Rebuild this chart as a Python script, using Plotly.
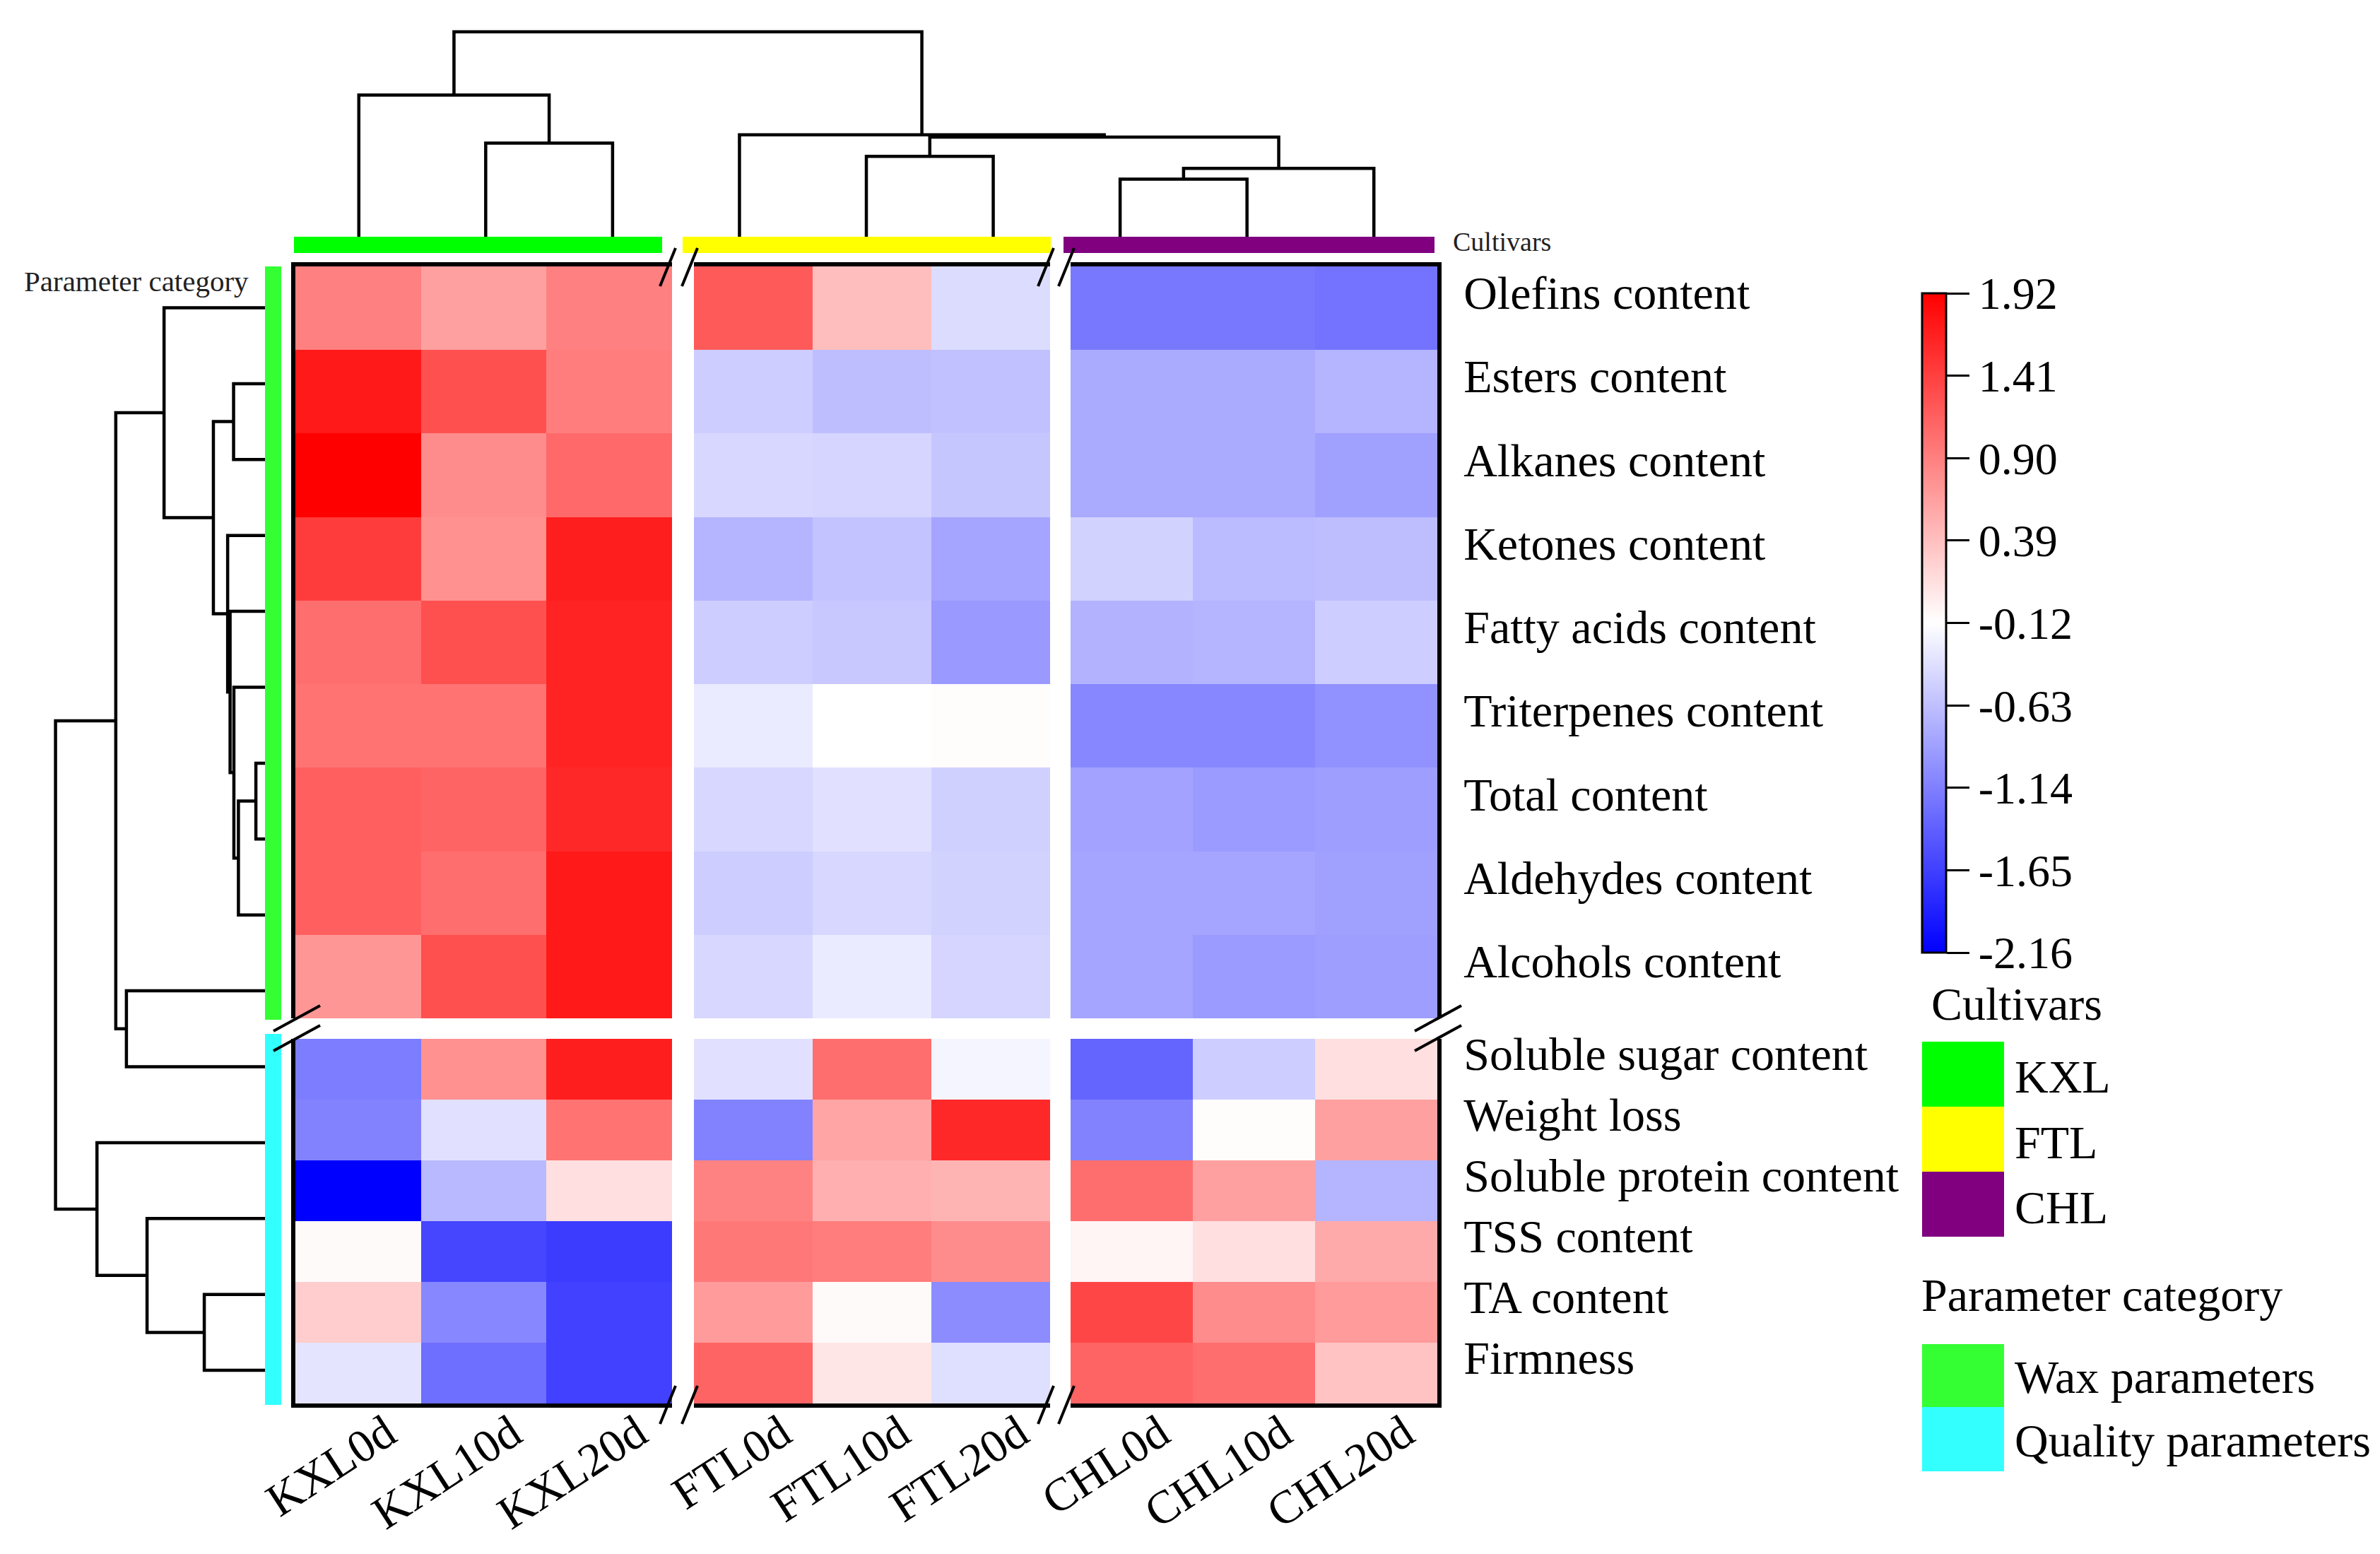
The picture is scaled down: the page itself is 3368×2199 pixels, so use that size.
import plotly.graph_objects as go

# ---------------- data ----------------
cultivar_cols = ["KXL0d", "KXL10d", "KXL20d", "FTL0d", "FTL10d", "FTL20d", "CHL0d", "CHL10d", "CHL20d"]
cultivar_groups = ["KXL", "FTL", "CHL"]
wax_params = ["Olefins content", "Esters content", "Alkanes content", "Ketones content",
              "Fatty acids content", "Triterpenes content", "Total content",
              "Aldehydes content", "Alcohols content"]
quality_params = ["Soluble sugar content", "Weight loss", "Soluble protein content",
                  "TSS content", "TA content", "Firmness"]

wax_values = [
    [0.90, 0.64, 0.90, 1.20, 0.40, -0.40, -1.20, -1.20, -1.24],
    [1.72, 1.28, 0.92, -0.52, -0.64, -0.62, -0.80, -0.80, -0.72],
    [1.92, 0.80, 1.08, -0.44, -0.46, -0.58, -0.80, -0.80, -0.88],
    [1.44, 0.76, 1.68, -0.72, -0.60, -0.84, -0.48, -0.66, -0.64],
    [1.04, 1.28, 1.64, -0.52, -0.56, -0.94, -0.74, -0.72, -0.52],
    [1.00, 1.00, 1.64, -0.28, -0.12, -0.10, -1.08, -1.08, -1.00],
    [1.16, 1.12, 1.60, -0.44, -0.36, -0.50, -0.86, -0.92, -0.90],
    [1.16, 1.04, 1.72, -0.52, -0.44, -0.48, -0.84, -0.84, -0.88],
    [0.72, 1.28, 1.72, -0.44, -0.28, -0.46, -0.84, -0.92, -0.90],
]
quality_values = [
    [-1.16, 0.76, 1.68, -0.36, 1.04, -0.20, -1.36, -0.52, 0.14],
    [-1.12, -0.36, 1.00, -1.12, 0.60, 1.60, -1.12, -0.10, 0.64],
    [-2.16, -0.68, 0.14, 0.88, 0.52, 0.48, 1.04, 0.64, -0.72],
    [-0.08, -1.60, -1.68, 0.96, 0.92, 0.80, -0.04, 0.14, 0.56],
    [0.28, -1.08, -1.64, 0.68, -0.08, -1.04, 1.36, 0.80, 0.68],
    [-0.34, -1.28, -1.64, 1.12, 0.08, -0.38, 1.12, 1.04, 0.36],
]

colorbar_ticks = [1.92, 1.41, 0.90, 0.39, -0.12, -0.63, -1.14, -1.65, -2.16]
category_names = ["Wax parameters", "Quality parameters"]

# dendrogram merges: (child a, child b, merge height); leaves 0..n-1, merge k -> node n+k
col_merges = [(1, 2, 6.17), (0, 9, 9.33), (4, 5, 5.3), (6, 7, 3.8), (12, 8, 4.5),
              (11, 13, 6.56), (3, 14, 6.71), (10, 15, 13.5)]
row_merges = [(1, 2, 2.07), (6, 7, 0.6), (16, 8, 1.75), (5, 17, 2.05), (4, 18, 2.3),
              (3, 19, 2.46), (15, 20, 3.4), (0, 21, 6.65), (9, 10, 9.13), (22, 23, 9.83),
              (13, 14, 4.0), (12, 25, 7.77), (11, 26, 11.07), (24, 27, 13.8)]

# ---------------- layout helpers ----------------
W, H = 3368, 2199
FONT = "Liberation Serif"


def fx(p):
    return p / W


def fy(p):
    return 1 - p / H


col_edges = [(410, 943), (974, 1478), (1507, 2026)]   # pixel x of the three column blocks
row_edges = [(369, 1433), (1462, 1978)]               # pixel y of the two row blocks

cultivar_colors = ["#00FF00", "#FFFF00", "#800080"]
category_colors = ["#33FF33", "#33FFFF"]


def dendro_segments(n, merges):
    pos = [float(i) for i in range(n)]
    hgt = [0.0] * n
    ps, hs = [], []
    for a, b, h in merges:
        ps += [pos[a], pos[a], pos[b], pos[b], None]
        hs += [hgt[a], h, h, hgt[b], None]
        pos.append((pos[a] + pos[b]) / 2)
        hgt.append(h)
    return ps, hs


fig = go.Figure()
layout = {}

row_blocks = [(wax_params, wax_values), (quality_params, quality_values)]
k = 0
for r, (params, vals) in enumerate(row_blocks):
    for c in range(3):
        k += 1
        xs = cultivar_cols[3 * c:3 * c + 3]
        z = [row[3 * c:3 * c + 3] for row in vals]
        fig.add_trace(go.Heatmap(z=z, x=xs, y=params, coloraxis="coloraxis",
                                 xaxis=f"x{k}", yaxis=f"y{k}", hoverinfo="skip"))
        xl, xr = col_edges[c]
        yt, yb = row_edges[r]
        layout[f"xaxis{k}"] = dict(
            domain=[fx(xl), fx(xr)], anchor=f"y{k}", type="category", automargin=False,
            range=[-0.5, 2.5], showgrid=False, zeroline=False, ticks="",
            side="top" if r == 0 else "bottom",
            showline=True, linecolor="black", linewidth=6,
            showticklabels=(r == 1), tickangle=-33,
            tickfont=dict(family=FONT, size=66, color="black"),
            ticklabelstandoff=-28, ticklabelshift=40,
        )
        layout[f"yaxis{k}"] = dict(
            domain=[fy(yb), fy(yt)], anchor=f"x{k}", type="category", automargin=False,
            range=[len(params) - 0.5, -0.5], showgrid=False, zeroline=False, ticks="",
            side="right" if c == 2 else "left",
            showline=(c != 1), linecolor="black", linewidth=6,
            showticklabels=(c == 2),
            tickfont=dict(family=FONT, size=66, color="black"),
            ticklabelstandoff=18, ticklabelshift=22,
        )

# top dendrogram
cp, ch = dendro_segments(len(cultivar_cols), col_merges)
fig.add_trace(go.Scatter(x=cp, y=ch, mode="lines", line=dict(color="black", width=4.5),
                         xaxis="x7", yaxis="y7", hoverinfo="skip", showlegend=False))
layout["xaxis7"] = dict(domain=[fx(410), fx(2026)], anchor="y7", range=[-0.5, 8.5],
                        visible=False, automargin=False)
layout["yaxis7"] = dict(domain=[fy(327), fy(14)], anchor="x7", range=[0, (327 - 14) / 21.48],
                        visible=False, automargin=False)

# left dendrogram
n_rows = len(wax_params) + len(quality_params)
rp, rh = dendro_segments(n_rows, row_merges)
fig.add_trace(go.Scatter(x=rh, y=rp, mode="lines", line=dict(color="black", width=4.5),
                         xaxis="x8", yaxis="y8", hoverinfo="skip", showlegend=False))
layout["xaxis8"] = dict(domain=[fx(14), fx(367)], anchor="y8", range=[(367 - 14) / 21.48, 0],
                        visible=False, automargin=False)
layout["yaxis8"] = dict(domain=[fy(427.5 + 14.5 * 107.4), fy(427.5 - 0.5 * 107.4)], anchor="x8",
                        range=[n_rows - 0.5, -0.5], visible=False, automargin=False)

shapes = []
# cultivar bars on top
bar_x = [(408, 929), (958, 1479), (1497, 2022)]
for (x0, x1), col in zip(bar_x, cultivar_colors):
    shapes.append(dict(type="rect", xref="paper", yref="paper", x0=fx(x0), x1=fx(x1),
                       y0=fy(350), y1=fy(327), fillcolor=col, line=dict(width=0)))
# parameter category bars on the left
bar_y = [(369, 1435), (1455, 1980)]
for (y0, y1), col in zip(bar_y, category_colors):
    shapes.append(dict(type="rect", xref="paper", yref="paper", x0=fx(367), x1=fx(390),
                       y0=fy(y1), y1=fy(y0), fillcolor=col, line=dict(width=0)))


# break marks on the frame
def mark(cx, cy, dx, dy):
    shapes.append(dict(type="line", xref="paper", yref="paper",
                       x0=fx(cx - dx), y0=fy(cy + dy), x1=fx(cx + dx), y1=fy(cy - dy),
                       line=dict(color="black", width=4), layer="above"))


for e in [943, 974, 1478, 1507]:
    mark(e - 6, 370, 11, 27)
    mark(e - 6, 1980, 11, 27)
for e in [1433, 1461]:
    mark(412, e, 33, 18)
    mark(2027, e, 33, 18)

# legend squares
leg_x0, leg_x1 = 2712, 2828
cult_y = [(1466, 1558), (1558, 1650), (1650, 1742)]
for (y0, y1), col in zip(cult_y, cultivar_colors):
    shapes.append(dict(type="rect", xref="paper", yref="paper", x0=fx(leg_x0), x1=fx(leg_x1),
                       y0=fy(y1), y1=fy(y0), fillcolor=col, line=dict(width=0)))
cat_y = [(1894, 1983), (1983, 2074)]
for (y0, y1), col in zip(cat_y, category_colors):
    shapes.append(dict(type="rect", xref="paper", yref="paper", x0=fx(leg_x0), x1=fx(leg_x1),
                       y0=fy(y1), y1=fy(y0), fillcolor=col, line=dict(width=0)))

annotations = [
    dict(text="Cultivars", x=fx(2046), y=fy(334), xanchor="left", yanchor="middle",
         font=dict(family=FONT, size=38, color="#222")),
    dict(text="Parameter category", x=fx(346), y=fy(390), xanchor="right", yanchor="middle",
         font=dict(family=FONT, size=41, color="#222")),
    dict(text="Cultivars", x=fx(2846), y=fy(1412), xanchor="center", yanchor="middle",
         font=dict(family=FONT, size=66, color="black")),
    dict(text="Parameter category", x=fx(2709), y=fy(1825), xanchor="left", yanchor="middle",
         font=dict(family=FONT, size=66, color="black")),
]
for (y0, y1), name in zip(cult_y, cultivar_groups):
    annotations.append(dict(text=name, x=fx(2841), y=fy((y0 + y1) / 2 + 4), xanchor="left", yanchor="middle",
                            font=dict(family=FONT, size=66, color="black")))
for (y0, y1), name in zip(cat_y, category_names):
    annotations.append(dict(text=name, x=fx(2841), y=fy((y0 + y1) / 2 + 2), xanchor="left", yanchor="middle",
                            font=dict(family=FONT, size=66, color="black")))
for a in annotations:
    a.update(xref="paper", yref="paper", showarrow=False)

fig.update_layout(
    width=W, height=H, margin=dict(l=0, r=0, t=0, b=0, autoexpand=False),
    paper_bgcolor="white", plot_bgcolor="white", showlegend=False,
    font=dict(family=FONT, color="black"),
    coloraxis=dict(
        colorscale=[[0, "#0000FF"], [0.5, "#FFFFFF"], [1, "#FF0000"]],
        cmin=-2.16, cmax=1.92,
        colorbar=dict(
            x=fx(2712), xanchor="left", y=fy(407), yanchor="top",
            len=(1339.6 - 407) / H, lenmode="fraction",
            thickness=34, thicknessmode="pixels", xpad=0, ypad=0,
            outlinewidth=3, outlinecolor="black",
            tickvals=colorbar_ticks, ticktext=[f"{v:.2f}" for v in colorbar_ticks],
            ticks="outside", ticklen=32, tickwidth=3, tickcolor="black",
            tickfont=dict(family=FONT, size=64, color="black"),
        ),
    ),
    shapes=shapes, annotations=annotations,
    **layout,
)

fig.write_html("out.html")
